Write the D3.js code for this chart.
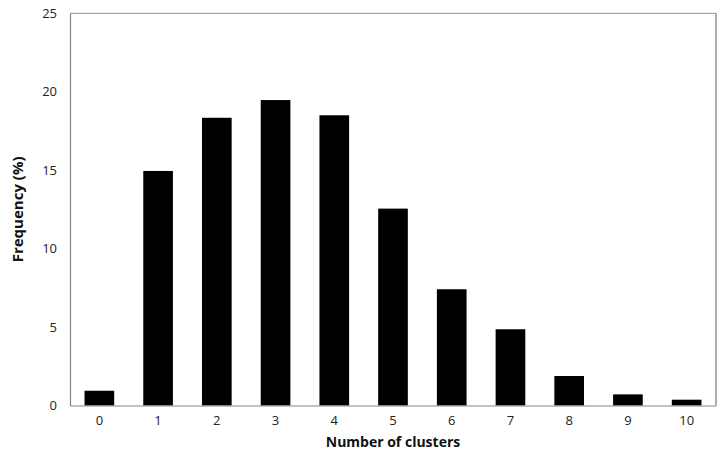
<!DOCTYPE html>
<html>
<head>
<meta charset="utf-8">
<script src="https://cdn.jsdelivr.net/npm/d3@7"></script>
<style>
html,body{margin:0;padding:0;background:#fff;}
svg{display:block;}
</style>
</head>
<body>
<svg id="chart" width="722" height="450"></svg>
<script>
const categories = ["0","1","2","3","4","5","6","7","8","9","10"];
const frequency = [0.94, 14.95, 18.34, 19.47, 18.5, 12.55, 7.41, 4.86, 1.88, 0.71, 0.37];
const yTicks = [0, 5, 10, 15, 20, 25];
const xTitle = "Number of clusters";
const yTitle = "Frequency (%)";

const svg = d3.select("#chart");
const m = {left: 70, right: 716, top: 13.3, bottom: 405.5};
const font = "'Open Sans', 'Liberation Sans', sans-serif";

const x = d3.scaleBand().domain(categories).range([m.left, m.right]).paddingInner(0.495).paddingOuter(0.2475);
const y = d3.scaleLinear().domain([0, 25]).range([m.bottom, m.top]);

// plot border
svg.append("line").attr("x1", m.left).attr("x2", m.right).attr("y1", m.top).attr("y2", m.top)
  .attr("stroke", "#a6a6a6").attr("stroke-width", 1.2);
svg.append("line").attr("x1", m.right).attr("x2", m.right).attr("y1", m.top).attr("y2", m.bottom)
  .attr("stroke", "#777").attr("stroke-width", 1.2);

// bars
svg.append("g").selectAll("rect").data(frequency).join("rect")
  .attr("x", (d, i) => x(categories[i]))
  .attr("width", x.bandwidth())
  .attr("y", d => y(d))
  .attr("height", d => y(0) - y(d))
  .attr("fill", "#000");

// y axis
const yAxis = svg.append("g").attr("transform", `translate(${m.left},0)`)
  .call(d3.axisLeft(y).tickValues(yTicks).tickSize(0).tickPadding(13));
yAxis.select(".domain").attr("stroke", "#868686").attr("stroke-width", 1.2);
yAxis.selectAll("text").attr("font-family", font).attr("font-size", 13).attr("fill", "#222");

// x axis
const xAxis = svg.append("g").attr("transform", `translate(0,${m.bottom})`)
  .call(d3.axisBottom(x).tickSize(0).tickPadding(10));
xAxis.select(".domain").attr("stroke", "#868686").attr("stroke-width", 1.2);
xAxis.selectAll("text").attr("font-family", font).attr("font-size", 13).attr("fill", "#222");

// titles
svg.append("text").attr("x", 393).attr("y", 447)
  .attr("text-anchor", "middle").attr("font-family", font).attr("font-weight", "bold")
  .attr("font-size", 14).attr("fill", "#111").text(xTitle);
svg.append("text").attr("transform", `translate(23,${(m.top + m.bottom) / 2}) rotate(-90)`)
  .attr("text-anchor", "middle").attr("font-family", font).attr("font-weight", "bold")
  .attr("font-size", 15).attr("fill", "#111").text(yTitle);
</script>
</body>
</html>
